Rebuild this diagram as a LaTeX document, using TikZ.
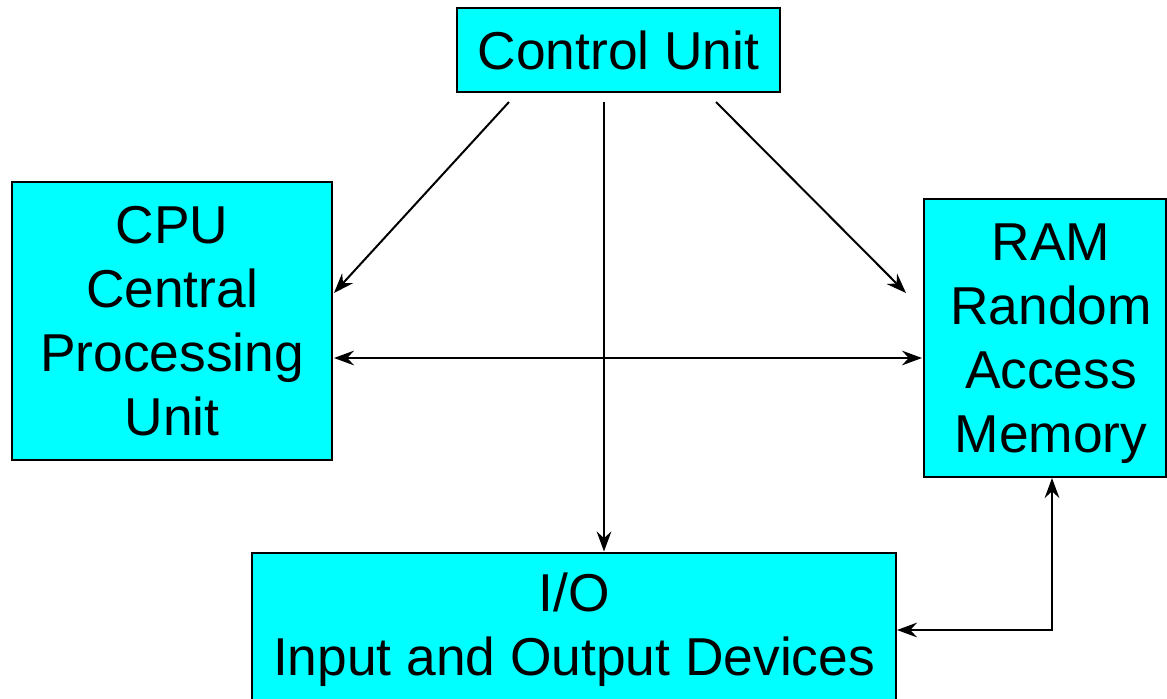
\documentclass[tikz,border=0pt]{standalone}
\usepackage{xcolor}
\usepackage{fontspec}
\setmainfont{Liberation Sans}
\usepackage{tikz}
\usetikzlibrary{arrows.meta,calc}

\definecolor{unitfill}{RGB}{0,255,255}

\begin{document}
\begin{tikzpicture}[x=0.75pt,y=0.75pt,yscale=-1,xscale=1,
	unitfont/.style={font=\fontsize{40}{48}\selectfont},
	unitbox/.style={draw, line width=1.5pt, fill=unitfill, align=center, inner sep=0pt, unitfont},
	link/.style={line width=1.5pt, -{Stealth[length=15pt,width=11pt,inset=5pt]}},
	dlink/.style={line width=1.5pt, {Stealth[length=15pt,width=11pt,inset=5pt]}-{Stealth[length=15pt,width=11pt,inset=5pt]}}]
	
	\useasboundingbox (0,0) rectangle (1167,699);
	
	%Shape: Rectangle [Control Unit]
	\node [unitbox, minimum width={323*0.75pt}, minimum height={84*0.75pt}] (cu) at (618.5,50) {Control Unit};
	%Shape: Rectangle [CPU]
	\node [unitbox, minimum width={320*0.75pt}, minimum height={278*0.75pt}] (cpu) at (172,321) {CPU\\Central\\Processing\\Unit};
	%Shape: Rectangle [RAM]
	\node [unitbox, minimum width={242*0.75pt}, minimum height={278*0.75pt},
		label={[unitfont, align=center, xshift={6*0.75pt}, yshift={-6*0.75pt}]center:RAM\\Random\\Access\\Memory}] (ram) at (1045,338) {};
	%Shape: Rectangle [I/O]
	\node [unitbox, minimum width={644*0.75pt}, minimum height={155*0.75pt}] (io) at (574,630) {I/O\\Input and Output Devices};
	
	% connector ends
	\coordinate (cuL) at ($(cu.south)+(-109.5,9)$);
	\coordinate (cuD) at ($(cu.south)+(-14.5,9)$);
	\coordinate (cuR) at ($(cu.south)+(97.5,9)$);
	\coordinate (ramD) at ($(ram.south)+(7,0)$);
	
	%Straight Lines
	\draw [link] (cuL) -- ($(cpu.east)+(1,-28)$);
	\draw [link] (cuD) -- (cuD |- io.north);
	\draw [link] (cuR) -- ($(ram.west)+(-17,-45)$);
	\draw [dlink] ($(cpu.east)+(1,37)$) -- ($(ram.west)+(-1,20)$);
	\draw [dlink] (ramD) |- (io.east);
	
\end{tikzpicture}
\end{document}
